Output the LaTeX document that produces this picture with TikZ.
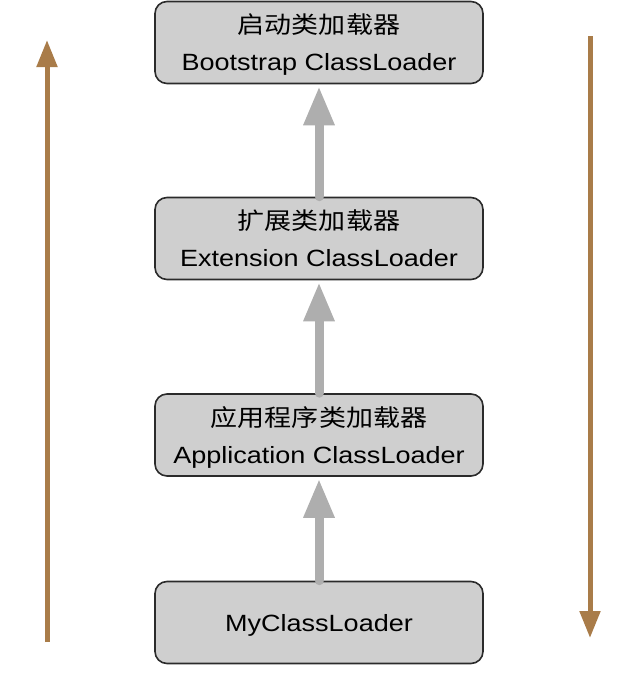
\documentclass[tikz,border=0pt]{standalone}
\usepackage{fontspec}
\setmainfont{Liberation Sans}[FakeStretch=1.15]
\newfontfamily\cjk{Noto Sans CJK SC}[FakeStretch=1.15]
\usetikzlibrary{arrows.meta}
\definecolor{boxgray}{HTML}{CFCFCF}
\definecolor{boxline}{HTML}{2B2B2B}
\definecolor{linkgray}{HTML}{AEAEAE}
\definecolor{flowbrown}{HTML}{A97C49}
\tikzset{x=1pt, y=-1pt,
loader/.style={ % Sets the properties for each loader box
draw=boxline,
line width=1.6pt,
fill=boxgray,
rounded corners=12pt,
minimum width=328pt,
minimum height=82pt,
align=center,
text depth=0pt,
font=\fontsize{23.5}{37}\selectfont},
parent/.style={ % Gray arrow to the parent loader
draw=linkgray,
line width=9pt,
line cap=round,
-{Triangle[width=29pt,length=39pt]},
shorten >=2pt},
flow/.style={ % Brown arrows at the sides
draw=flowbrown,
line width=5pt,
-{Triangle[width=20pt,length=27pt]}}}

\begin{document}
\begin{tikzpicture}
\useasboundingbox (0,0) rectangle (638,678);
\node[loader] (boot) at (319,42.5) {{\cjk 启动类加载器}\\Bootstrap ClassLoader};
\node[loader] (ext) at (319,238.5) {{\cjk 扩展类加载器}\\Extension ClassLoader};
\node[loader] (app) at (319,435) {{\cjk 应用程序类加载器}\\Application ClassLoader};
\node[loader] (my) at (319,622.5) {MyClassLoader};
\draw[parent] (ext) -- (boot);
\draw[parent] (app) -- (ext);
\draw[parent] (my) -- (app);
\coordinate (upfrom) at (47,642);
\coordinate (upto) at (47,40);
\coordinate (downfrom) at (590,36);
\coordinate (downto) at (590,638);
\draw[flow] (upfrom) -- (upto);
\draw[flow] (downfrom) -- (downto);
\end{tikzpicture}
\end{document}
